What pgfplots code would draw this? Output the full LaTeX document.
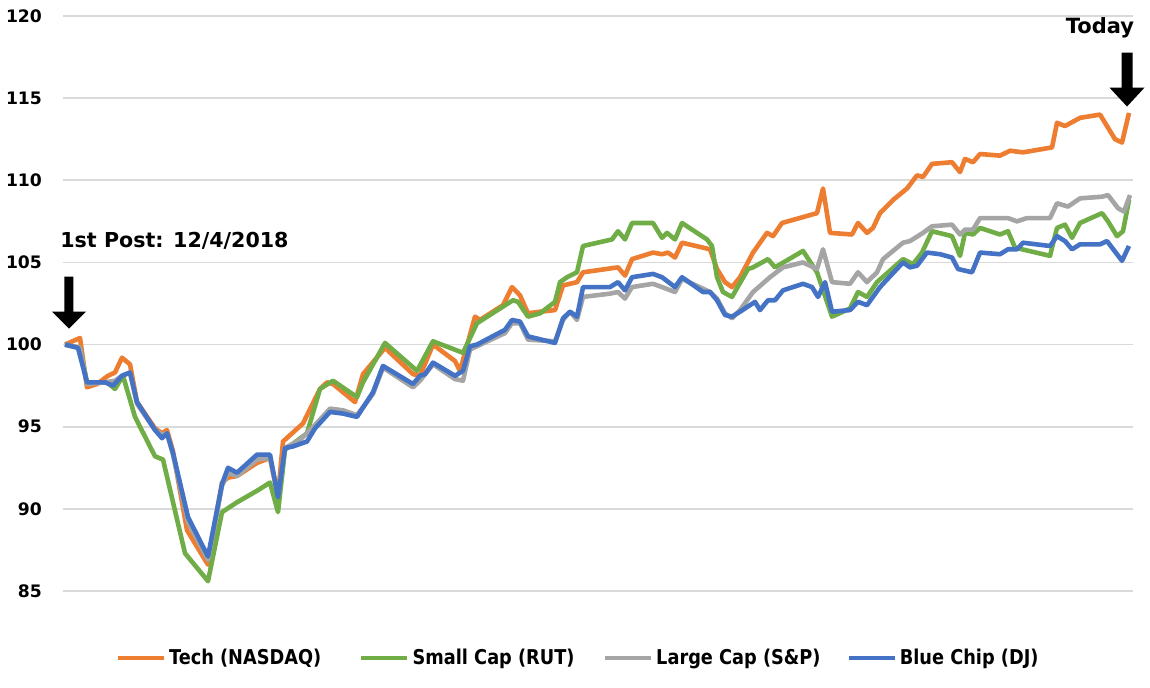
\documentclass[border=0pt]{standalone}
\usepackage{fontspec}
\setmainfont{DejaVu Sans}
\newfontfamily\legfont{DejaVu Sans}[FakeStretch=0.87]
\usepackage{pgfplots}
\pgfplotsset{compat=1.18}

\definecolor{ctech}{HTML}{ED7D31}
\definecolor{csmall}{HTML}{70AD47}
\definecolor{clarge}{HTML}{A5A5A5}
\definecolor{cblue}{HTML}{4472C4}
\definecolor{cgrid}{HTML}{D9D9D9}

\begin{document}
\begin{tikzpicture}
\begin{axis}[
    at={(0,0)}, anchor=south west,
    scale only axis,
    width=535pt, height=287.5pt,
    xmin=63, xmax=1133,
    ymin=85, ymax=120,
    ytick={85,90,...,120},
    xtick=\empty,
    axis line style={draw=none},
    ytick style={draw=none},
    ymajorgrids=true,
    grid style={cgrid, line width=0.9pt},
    /pgf/number format/assume math mode=true,
    yticklabel style={font=\bfseries\fontsize{8.6}{10}\selectfont, xshift=-7pt},
    clip=false,
    every axis plot/.append style={line width=2.3pt, line join=round, mark=none},
    legend columns=4,
    legend image code/.code={\draw[#1, line width=2.3pt] (0pt,0pt) -- (23pt,0pt);},
    legend style={
      draw=none, fill=none, inner sep=0pt, outer sep=0pt,
      at={(axis description cs:0.049,-0.1165)}, anchor=west,
      font=\legfont\bfseries\fontsize{10.2}{12}\selectfont,
      nodes={inner sep=0pt},
      column sep=0pt,
      /tikz/every odd column/.append style={column sep=1.5pt},
      /tikz/every even column/.append style={column sep=2.5pt}
    },
  ]

  % Tech (NASDAQ)
  \addplot[ctech] coordinates {
    (65,100.0) (80,100.4) (87,97.4) (97,97.6) (108,98.1) (115,98.3) (122,99.2)
    (130,98.8) (137,96.5) (155,94.9) (162,94.6) (167,94.8) (173,93.5) (187,88.7)
    (208,86.6) (222,91.6) (228,91.9) (237,92.0) (257,92.8) (270,93.1) (278,90.8)
    (283,94.1) (303,95.2) (320,97.3) (327,97.7) (333,97.6) (355,96.5) (363,98.2)
    (385,99.8) (413,98.2) (420,98.1) (433,100.0) (455,99.0) (460,98.4) (475,101.7)
    (480,101.5) (503,102.4) (512,103.5) (520,103.0) (528,101.9) (540,102.0) (555,102.1)
    (563,103.6) (577,103.8) (583,104.4) (618,104.7) (625,104.2) (632,105.2) (653,105.6)
    (662,105.5) (668,105.6) (675,105.3) (682,106.2) (703,105.9) (710,105.8) (717,104.6)
    (725,103.8) (732,103.5) (740,104.1) (753,105.6) (767,106.8) (773,106.6) (782,107.4)
    (817,108.0) (823,109.5) (830,106.8) (852,106.7) (858,107.4) (867,106.8) (873,107.1)
    (880,108.0) (893,108.8) (907,109.5) (917,110.3) (923,110.2) (932,111.0) (952,111.1)
    (960,110.5) (965,111.3) (973,111.1) (980,111.6) (1000,111.5) (1010,111.8) (1023,111.7)
    (1052,112.0) (1057,113.5) (1065,113.3) (1080,113.8) (1100,114.0) (1107,113.3)
    (1115,112.5) (1122,112.3) (1129,114.1)
  };
  \addlegendentry{\makebox[92.5pt][l]{Tech (NASDAQ)}}

  % Small Cap (RUT)
  \addplot[csmall] coordinates {
    (65,100.0) (80,99.8) (87,97.7) (107,97.7) (115,97.3) (123,98.1) (135,95.6)
    (155,93.2) (163,93.0) (185,87.3) (208,85.6) (222,89.8) (237,90.4) (257,91.1)
    (270,91.6) (278,89.8) (285,93.6) (307,94.6) (320,97.3) (333,97.8) (357,96.8)
    (363,97.7) (385,100.1) (417,98.4) (433,100.2) (463,99.5) (477,101.3) (513,102.7)
    (518,102.6) (528,101.7) (540,101.9) (555,102.6) (560,103.8) (567,104.1) (577,104.4)
    (583,106.0) (612,106.4) (618,106.9) (625,106.4) (632,107.4) (653,107.4) (662,106.5)
    (667,106.8) (675,106.4) (682,107.4) (707,106.4) (712,106.0) (717,104.1) (723,103.2)
    (732,102.9) (748,104.6) (753,104.7) (768,105.2) (775,104.7) (803,105.7) (817,104.4)
    (832,101.7) (850,102.2) (858,103.2) (867,102.9) (877,103.8) (903,105.2) (913,104.9)
    (922,105.6) (932,106.9) (952,106.6) (960,105.4) (965,106.8) (973,106.7) (980,107.1)
    (1000,106.7) (1008,106.9) (1015,105.9) (1050,105.4) (1057,107.1) (1065,107.3)
    (1072,106.5) (1080,107.4) (1102,108.0) (1108,107.5) (1117,106.6) (1123,106.9)
    (1129,108.8)
  };
  \addlegendentry{\makebox[92.5pt][l]{Small Cap (RUT)}}

  % Large Cap (S&P)
  \addplot[clarge] coordinates {
    (65,100.0) (80,99.8) (87,97.6) (105,97.7) (115,97.8) (122,98.1) (130,98.3)
    (137,96.4) (155,94.8) (162,94.5) (167,94.6) (173,93.3) (188,89.2) (208,86.9)
    (222,91.4) (228,92.2) (237,92.0) (257,93.0) (270,93.1) (278,90.8) (285,93.7)
    (300,94.2) (315,95.1) (330,96.1) (343,96.0) (357,95.7) (373,97.0) (383,98.6)
    (413,97.4) (420,97.8) (433,98.8) (455,97.9) (463,97.8) (470,99.7) (505,100.7)
    (512,101.3) (520,101.3) (528,100.3) (555,100.2) (563,101.5) (570,102.0) (577,101.5)
    (583,102.9) (610,103.1) (618,103.2) (625,102.8) (632,103.5) (653,103.7) (662,103.5)
    (675,103.2) (682,104.0) (710,103.2) (717,102.8) (725,101.9) (732,101.6) (740,102.1)
    (753,103.2) (770,104.1) (783,104.7) (803,105.0) (817,104.6) (823,105.8) (832,103.8)
    (850,103.7) (858,104.4) (867,103.8) (877,104.4) (883,105.2) (903,106.2) (910,106.3)
    (923,106.8) (932,107.2) (952,107.3) (960,106.7) (965,107.0) (973,107.0) (980,107.7)
    (1008,107.7) (1017,107.5) (1027,107.7) (1050,107.7) (1057,108.6) (1068,108.4)
    (1080,108.9) (1102,109.0) (1108,109.1) (1118,108.3) (1124,108.1) (1130,109.1)
  };
  \addlegendentry{\makebox[92.5pt][l]{Large Cap (S\&P)}}

  % Blue Chip (DJ)
  \addplot[cblue] coordinates {
    (65,100.0) (78,99.8) (87,97.7) (105,97.7) (113,97.5) (122,98.1) (130,98.3)
    (137,96.5) (155,94.8) (162,94.3) (167,94.6) (173,93.4) (188,89.5) (208,87.1)
    (222,91.5) (228,92.5) (237,92.2) (257,93.3) (270,93.3) (278,90.7) (285,93.7)
    (293,93.8) (307,94.1) (315,94.9) (330,95.9) (343,95.8) (357,95.6) (373,97.1)
    (383,98.7) (413,97.6) (420,98.1) (425,98.2) (433,98.9) (455,98.1) (463,98.4)
    (470,99.9) (477,100.0) (505,100.9) (512,101.5) (520,101.4) (528,100.5) (555,100.1)
    (563,101.6) (570,102.0) (577,101.7) (583,103.5) (610,103.5) (618,103.8) (625,103.3)
    (632,104.1) (653,104.3) (662,104.1) (675,103.5) (682,104.1) (703,103.2) (710,103.2)
    (717,102.7) (725,101.8) (732,101.7) (740,102.0) (755,102.6) (760,102.1) (768,102.7)
    (775,102.7) (783,103.3) (803,103.7) (812,103.5) (818,102.9) (825,103.8) (832,102.0)
    (850,102.1) (858,102.6) (867,102.4) (880,103.5) (903,105.0) (910,104.7) (917,104.8)
    (927,105.6) (940,105.5) (952,105.3) (958,104.6) (972,104.4) (980,105.6) (1000,105.5)
    (1008,105.8) (1017,105.8) (1023,106.2) (1050,106.0) (1057,106.6) (1065,106.3)
    (1072,105.8) (1080,106.1) (1100,106.1) (1107,106.3) (1122,105.1) (1129,106.0)
  };
  \addlegendentry{\makebox[92.5pt][l]{Blue Chip (DJ)}}

  % annotations
  \fill[black] (axis cs:64.5,104.14) -- (axis cs:73.5,104.14) -- (axis cs:73.5,102.0)
    -- (axis cs:86,102.0) -- (axis cs:69,100.97) -- (axis cs:52,102.0)
    -- (axis cs:64.5,102.0) -- cycle;
  \fill[black] (axis cs:1121.5,117.77) -- (axis cs:1132.5,117.77) -- (axis cs:1132.5,115.64)
    -- (axis cs:1144.5,115.64) -- (axis cs:1127,114.49) -- (axis cs:1109.5,115.64)
    -- (axis cs:1121.5,115.64) -- cycle;
  \node[anchor=west, inner sep=0pt, font=\bfseries\fontsize{10.3}{12}\selectfont]
    at (axis cs:60,106.3) {1st Post: 12/4/2018};
  \node[anchor=center, inner sep=0pt, font=\bfseries\fontsize{10.5}{12}\selectfont]
    at (axis cs:1100,119.27) {Today};
\end{axis}
\pgfresetboundingbox
\path[use as bounding box] (-31.5pt,-48pt) rectangle (543.5pt,295.5pt);
\end{tikzpicture}
\end{document}
